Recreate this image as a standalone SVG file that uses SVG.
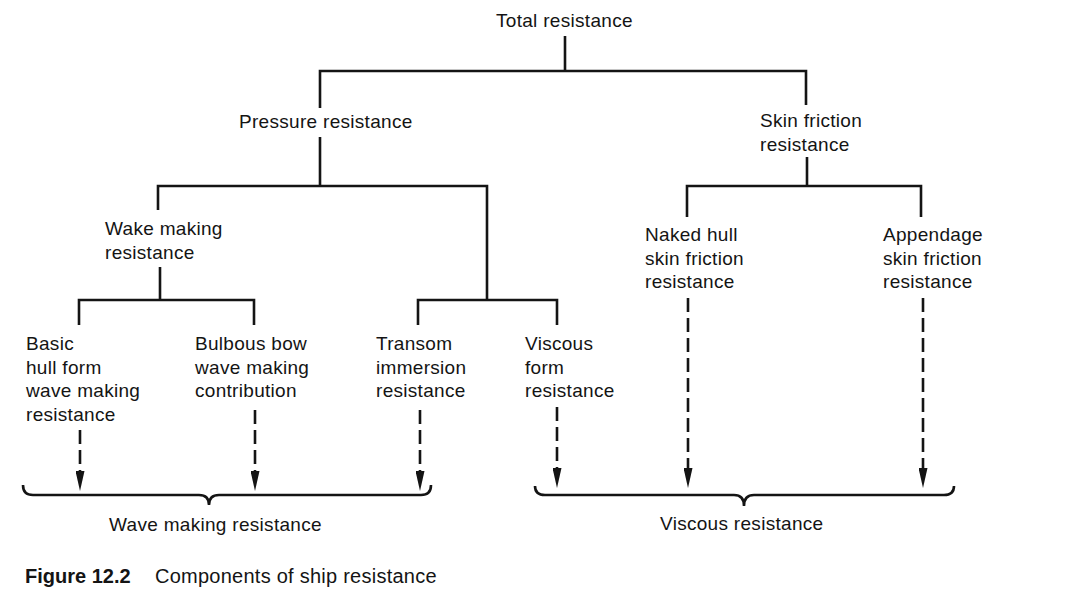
<svg xmlns="http://www.w3.org/2000/svg" width="1068" height="615" viewBox="0 0 1068 615">
<style>
text{font-family:"Liberation Sans",Arial,sans-serif;font-size:19px;fill:#141414;letter-spacing:0.3px}
.cap{font-size:20px;letter-spacing:0.25px}
.b{font-weight:bold;letter-spacing:0}
.ln{fill:none;stroke:#141414;stroke-width:2.6}
.ds{fill:none;stroke:#141414;stroke-width:2.6;stroke-dasharray:14 6}
</style>
<defs>
<marker id="ah" viewBox="0 0 20 9" refX="0" refY="4.5" markerWidth="20" markerHeight="9" markerUnits="userSpaceOnUse" orient="auto">
<path d="M0,0 L20,4.5 L0,9 z" fill="#141414"/>
</marker>
</defs>
<rect width="1068" height="615" fill="#fff"/>
<g id="connectors">
<path class="ln" d="M565,36 V71 M320,108 V71 H806 V105"/>
<path class="ln" d="M320,137 V186 M158,210 V186 H487 V300"/>
<path class="ln" d="M160,267 V300 M79,325 V300 H254 V325"/>
<path class="ln" d="M418,325 V300 H557 V325"/>
<path class="ln" d="M807,157 V186 M687,217 V186 H921 V217"/>
<line class="ds" x1="80" y1="430" x2="80" y2="471" marker-end="url(#ah)"/>
<line class="ds" x1="255" y1="410" x2="255" y2="471" marker-end="url(#ah)"/>
<line class="ds" x1="420" y1="410" x2="420" y2="471" marker-end="url(#ah)"/>
<line class="ds" x1="557" y1="407" x2="557" y2="468" marker-end="url(#ah)"/>
<line class="ds" x1="688" y1="298" x2="688" y2="468" marker-end="url(#ah)"/>
<line class="ds" x1="923" y1="298" x2="923" y2="468" marker-end="url(#ah)"/>
<path id="brace-wave" class="ln" d="M23,485 Q23,495 33,495 L199,495 Q209,495 209,505 Q209,495 219,495 L421,495 Q431,495 431,485"/>
<path id="brace-viscous" class="ln" d="M535,486 Q535,495 545,495 L734,495 Q744,495 744,506 Q744,495 754,495 L944,495 Q954,495 954,486"/>
</g>
<g id="n-total"><text x="496" y="27">Total resistance</text></g>
<g id="n-pressure"><text x="239" y="128">Pressure resistance</text></g>
<g id="n-skin"><text x="760" y="127">Skin friction</text><text x="760" y="151">resistance</text></g>
<g id="n-wake"><text x="105" y="235">Wake making</text><text x="105" y="258.5">resistance</text></g>
<g id="n-naked"><text x="645" y="241">Naked hull</text><text x="645" y="264.5">skin friction</text><text x="645" y="288">resistance</text></g>
<g id="n-appendage"><text x="883" y="241">Appendage</text><text x="883" y="264.5">skin friction</text><text x="883" y="288">resistance</text></g>
<g id="n-basic"><text x="26" y="350">Basic</text><text x="26" y="373.5">hull form</text><text x="26" y="397">wave making</text><text x="26" y="420.5">resistance</text></g>
<g id="n-bulbous"><text x="195" y="350">Bulbous bow</text><text x="195" y="373.5">wave making</text><text x="195" y="397">contribution</text></g>
<g id="n-transom"><text x="376" y="350">Transom</text><text x="376" y="373.5">immersion</text><text x="376" y="397">resistance</text></g>
<g id="n-viscousform"><text x="525" y="350">Viscous</text><text x="525" y="373.5">form</text><text x="525" y="397">resistance</text></g>
<g id="n-wavemaking"><text x="109" y="531">Wave making resistance</text></g>
<g id="n-viscous"><text x="660" y="530">Viscous resistance</text></g>
<g id="caption"><text class="cap b" x="25" y="583">Figure 12.2</text><text class="cap" x="155" y="583">Components of ship resistance</text></g>
</svg>
